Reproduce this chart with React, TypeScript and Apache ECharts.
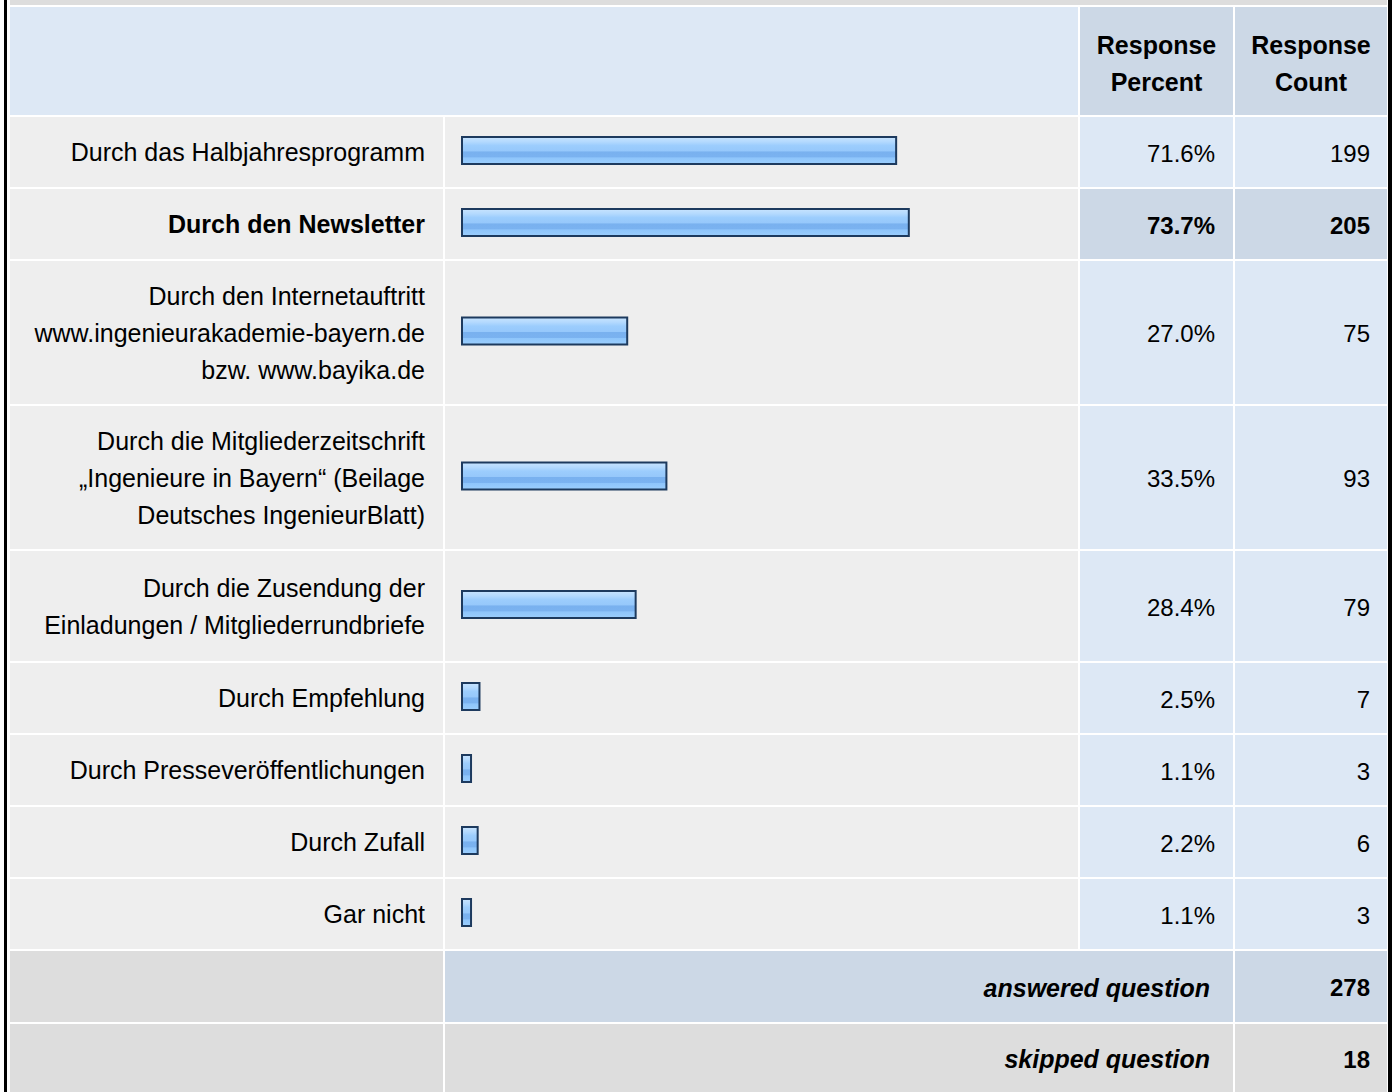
import React, { useEffect, useRef } from "react";
import * as echarts from "echarts";

// ---- data ----
const categories: string[] = [
  "Durch das Halbjahresprogramm",
  "Durch den Newsletter",
  "Durch den Internetauftritt\nwww.ingenieurakademie-bayern.de\nbzw. www.bayika.de",
  "Durch die Mitgliederzeitschrift\n„Ingenieure in Bayern“ (Beilage\nDeutsches IngenieurBlatt)",
  "Durch die Zusendung der\nEinladungen / Mitgliederrundbriefe",
  "Durch Empfehlung",
  "Durch Presseveröffentlichungen",
  "Durch Zufall",
  "Gar nicht",
];
const percents: number[] = [71.6, 73.7, 27.0, 33.5, 28.4, 2.5, 1.1, 2.2, 1.1];
const counts: number[] = [199, 205, 75, 93, 79, 7, 3, 6, 3];
const headerLabels: string[] = ["Response\nPercent", "Response\nCount"];
const summaryLabels: string[] = ["answered question", "skipped question"];
const summaryValues: number[] = [278, 18];

// ---- layout ----
const W = 1396;
const H = 1092;
const FONT = '"Liberation Sans", Arial, Helvetica, sans-serif';
const FS = 25; // word text
const FS_NUM = 24; // numeric text
const LH = 37;
const GAP = 2;
const COL = {
  label: { x: 10, w: 433 },
  bar: { x: 445, w: 633 },
  pct: { x: 1080, w: 153 },
  cnt: { x: 1235, w: 152 },
};
const HEADER = { y: 7, h: 108 };
const ROW_START = 117;
const rowHeightFor = (lines: number) => (lines === 1 ? 70 : lines === 2 ? 110 : 143);
const BAR_LEFT = 462;
const BAR_SCALE_W = 603;
const BAR_H = 27;
const BAR_PAD = 2.4;

const COLORS = {
  cellGray: "#eeeeee",
  cellBlue: "#dde8f5",
  cellBlueDark: "#ccd8e6",
  summaryGray: "#dddddd",
  border: "#000000",
  barStroke: "#1d3a5e",
  text: "#000000",
};

export default function App() {
  const ref = useRef<HTMLDivElement>(null);

  useEffect(() => {
    document.body.style.margin = "0";
    document.body.style.overflow = "hidden";
    if (!ref.current) return;
    const chart = echarts.init(ref.current, undefined, { renderer: "svg" });

    const maxIdx = percents.indexOf(Math.max(...percents));

    // row geometry
    const rows: { top: number; h: number }[] = [];
    let y = ROW_START;
    categories.forEach((c) => {
      const h = rowHeightFor(c.split("\n").length);
      rows.push({ top: y, h });
      y += h + GAP;
    });
    const ansTop = y;
    const ansH = 71;
    const skipTop = ansTop + ansH + GAP;
    const skipH = H - skipTop;

    const rect = (x: number, yy: number, w: number, h: number, fill: string, z = 0) => ({
      type: "rect",
      z,
      silent: true,
      shape: { x, y: yy, width: w, height: h },
      style: { fill },
    });
    const text = (
      x: number,
      yy: number,
      t: string,
      align: string,
      weight = "normal",
      style = "normal",
      size = FS
    ) => ({
      type: "text",
      z: 10,
      silent: true,
      x,
      y: yy,
      style: {
        text: t,
        fill: COLORS.text,
        fontFamily: FONT,
        fontSize: size,
        fontWeight: weight,
        fontStyle: style,
        lineHeight: LH,
        align,
        verticalAlign: "middle",
      },
    });

    const graphics: any[] = [];
    // outer borders & top strip
    graphics.push(rect(COL.label.x, 0, COL.cnt.x + COL.cnt.w - COL.label.x, 5, COLORS.summaryGray));
    graphics.push(rect(4, 0, 3, H, COLORS.border));
    graphics.push(rect(1388, 0, 4, H, COLORS.border));
    // header
    graphics.push(rect(COL.label.x, HEADER.y, COL.bar.x + COL.bar.w - COL.label.x, HEADER.h, COLORS.cellBlue));
    graphics.push(rect(COL.pct.x, HEADER.y, COL.pct.w, HEADER.h, COLORS.cellBlueDark));
    graphics.push(rect(COL.cnt.x, HEADER.y, COL.cnt.w, HEADER.h, COLORS.cellBlueDark));
    graphics.push(text(COL.pct.x + COL.pct.w / 2, HEADER.y + HEADER.h / 2 + 2, headerLabels[0], "center", "bold"));
    graphics.push(text(COL.cnt.x + COL.cnt.w / 2, HEADER.y + HEADER.h / 2 + 2, headerLabels[1], "center", "bold"));

    // data rows
    rows.forEach((r, i) => {
      const hl = i === maxIdx;
      const blue = hl ? COLORS.cellBlueDark : COLORS.cellBlue;
      graphics.push(rect(COL.label.x, r.top, COL.label.w, r.h, COLORS.cellGray));
      graphics.push(rect(COL.bar.x, r.top, COL.bar.w, r.h, COLORS.cellGray));
      graphics.push(rect(COL.pct.x, r.top, COL.pct.w, r.h, blue));
      graphics.push(rect(COL.cnt.x, r.top, COL.cnt.w, r.h, blue));
      const cy = r.top + r.h / 2 + 1;
      graphics.push(text(1215, cy, percents[i].toFixed(1) + "%", "right", hl ? "bold" : "normal", "normal", FS_NUM));
      graphics.push(text(1370, cy, String(counts[i]), "right", hl ? "bold" : "normal", "normal", FS_NUM));
    });

    // summary rows
    graphics.push(rect(COL.label.x, ansTop, COL.label.w, ansH, COLORS.summaryGray));
    graphics.push(rect(COL.bar.x, ansTop, COL.pct.x + COL.pct.w - COL.bar.x, ansH, COLORS.cellBlueDark));
    graphics.push(rect(COL.cnt.x, ansTop, COL.cnt.w, ansH, COLORS.cellBlueDark));
    graphics.push(rect(COL.label.x, skipTop, COL.label.w, skipH, COLORS.summaryGray));
    graphics.push(rect(COL.bar.x, skipTop, COL.pct.x + COL.pct.w - COL.bar.x, skipH, COLORS.summaryGray));
    graphics.push(rect(COL.cnt.x, skipTop, COL.cnt.w, skipH, COLORS.summaryGray));
    graphics.push(text(1210, ansTop + ansH / 2 + 1, summaryLabels[0], "right", "bold", "italic"));
    graphics.push(text(1370, ansTop + ansH / 2 + 1, String(summaryValues[0]), "right", "bold", "normal", FS_NUM));
    graphics.push(text(1210, skipTop + skipH / 2 + 1, summaryLabels[1], "right", "bold", "italic"));
    graphics.push(text(1370, skipTop + skipH / 2 + 1, String(summaryValues[1]), "right", "bold", "normal", FS_NUM));

    const gradient = new echarts.graphic.LinearGradient(0, 0, 0, 1, [
      { offset: 0, color: "#c8e4fe" },
      { offset: 0.18, color: "#b3d9fe" },
      { offset: 0.32, color: "#9ccdfd" },
      { offset: 0.52, color: "#96c8fb" },
      { offset: 0.55, color: "#79b1ef" },
      { offset: 0.74, color: "#7ab2f0" },
      { offset: 0.77, color: "#8ec5fb" },
      { offset: 1, color: "#9bcefd" },
    ]);

    const grids = rows.map((r) => ({
      left: BAR_LEFT,
      width: BAR_SCALE_W,
      top: r.top,
      height: r.h,
      containLabel: false,
    }));
    const xAxes = rows.map((_, i) => ({
      gridIndex: i,
      type: "value",
      min: 0,
      max: 100,
      show: false,
    }));
    const yAxes = rows.map((_, i) => ({
      gridIndex: i,
      type: "category",
      data: [categories[i]],
      z: 5,
      axisLine: { show: false },
      axisTick: { show: false },
      splitLine: { show: false },
      axisLabel: {
        margin: BAR_LEFT - 425,
        color: COLORS.text,
        fontFamily: FONT,
        fontSize: FS,
        fontWeight: i === maxIdx ? "bold" : "normal",
        lineHeight: LH,
        align: "right",
        verticalAlign: "middle",
      },
    }));
    const series = rows.map((_, i) => ({
      type: "custom",
      xAxisIndex: i,
      yAxisIndex: i,
      z: 5,
      silent: true,
      data: [[percents[i], 0]],
      encode: { x: 0, y: 1 },
      renderItem: (params: any, api: any) => {
        const v = api.value(0);
        const p0 = api.coord([0, 0]);
        const p1 = api.coord([v, 0]);
        return {
          type: "rect",
          shape: {
            x: p0[0],
            y: p0[1] - BAR_H / 2 - 1.5,
            width: p1[0] - p0[0] + BAR_PAD,
            height: BAR_H,
          },
          style: { fill: gradient, stroke: COLORS.barStroke, lineWidth: 2 },
        };
      },
    }));

    chart.setOption({
      animation: false,
      backgroundColor: "#ffffff",
      grid: grids,
      xAxis: xAxes,
      yAxis: yAxes,
      series,
      graphic: { elements: graphics },
    });

    return () => chart.dispose();
  }, []);

  return <div ref={ref} style={{ width: W, height: H }} />;
}
